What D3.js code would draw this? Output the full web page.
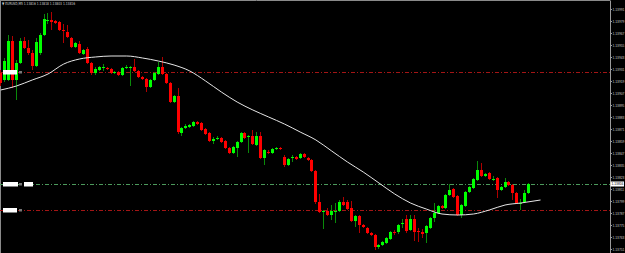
<!DOCTYPE html>
<html>
<head>
<meta charset="utf-8">
<script src="https://cdn.jsdelivr.net/npm/d3@7"></script>
<style>
html, body { margin: 0; padding: 0; background: #000; overflow: hidden; }
svg { display: block; }
</style>
</head>
<body>
<svg id="chart" width="625" height="253"></svg>
<script>
var symbolLabel = "\u25BC EURUSD,M5";
var ohlcLabel = ["1.13816", "1.13818", "1.13803", "1.13816"];

var openP = [1.13927,1.13920,1.13920,1.13959,1.13920,1.13937,1.13959,1.13952,1.13947,1.13934,
  1.13947,1.13965,1.13979,1.13980,1.13979,1.13978,1.13970,1.13968,1.13962,1.13953,
  1.13956,1.13946,1.13951,1.13937,1.13927,1.13930,1.13932,1.13932,1.13931,1.13927,
  1.13928,1.13925,1.13932,1.13932,1.13933,1.13929,1.13923,1.13921,1.13913,1.13920,
  1.13926,1.13933,1.13926,1.13917,1.13898,1.13904,1.13867,1.13872,1.13873,1.13874,
  1.13878,1.13877,1.13871,1.13867,1.13859,1.13861,1.13862,1.13859,1.13852,1.13847,
  1.13852,1.13858,1.13867,1.13863,1.13864,1.13855,1.13864,1.13842,1.13848,1.13847,
  1.13851,1.13852,1.13843,1.13835,1.13842,1.13843,1.13842,1.13846,1.13842,1.13840,
  1.13829,1.13798,1.13788,1.13789,1.13785,1.13788,1.13789,1.13798,1.13798,1.13792,
  1.13779,1.13784,1.13775,1.13772,1.13767,1.13765,1.13753,1.13755,1.13757,1.13761,
  1.13768,1.13768,1.13776,1.13781,1.13770,1.13781,1.13769,1.13768,1.13767,1.13772,
  1.13782,1.13787,1.13794,1.13792,1.13805,1.13811,1.13804,1.13785,1.13794,1.13808,
  1.13812,1.13820,1.13830,1.13824,1.13827,1.13820,1.13822,1.13810,1.13813,1.13818,
  1.13815,1.13807,1.13796,1.13798,1.13807];

var highP = [1.13930,1.13942,1.13965,1.13964,1.13940,1.13962,1.13963,1.13960,1.13950,1.13962,
  1.13967,1.13986,1.13987,1.13988,1.13980,1.13979,1.13976,1.13975,1.13963,1.13958,
  1.13959,1.13951,1.13953,1.13938,1.13933,1.13934,1.13936,1.13933,1.13932,1.13929,
  1.13929,1.13933,1.13935,1.13934,1.13941,1.13930,1.13924,1.13922,1.13921,1.13928,
  1.13938,1.13943,1.13927,1.13918,1.13905,1.13912,1.13873,1.13876,1.13876,1.13879,
  1.13879,1.13878,1.13872,1.13868,1.13863,1.13864,1.13863,1.13860,1.13853,1.13854,
  1.13859,1.13868,1.13868,1.13865,1.13870,1.13868,1.13868,1.13851,1.13850,1.13852,
  1.13853,1.13853,1.13845,1.13842,1.13845,1.13844,1.13847,1.13847,1.13843,1.13841,
  1.13830,1.13806,1.13790,1.13792,1.13795,1.13797,1.13800,1.13803,1.13800,1.13799,
  1.13785,1.13785,1.13776,1.13773,1.13768,1.13766,1.13756,1.13759,1.13763,1.13769,
  1.13770,1.13776,1.13781,1.13785,1.13785,1.13785,1.13772,1.13771,1.13775,1.13783,
  1.13797,1.13795,1.13795,1.13806,1.13816,1.13812,1.13805,1.13796,1.13809,1.13814,
  1.13822,1.13839,1.13837,1.13827,1.13828,1.13824,1.13823,1.13814,1.13822,1.13819,
  1.13816,1.13808,1.13801,1.13810,1.13817];

var lowP = [1.13914,1.13918,1.13919,1.13912,1.13900,1.13936,1.13951,1.13945,1.13930,1.13933,
  1.13945,1.13964,1.13976,1.13970,1.13976,1.13969,1.13957,1.13962,1.13952,1.13952,
  1.13946,1.13945,1.13936,1.13925,1.13925,1.13929,1.13929,1.13930,1.13926,1.13926,
  1.13924,1.13924,1.13931,1.13914,1.13928,1.13922,1.13920,1.13908,1.13912,1.13919,
  1.13925,1.13925,1.13916,1.13897,1.13897,1.13866,1.13864,1.13871,1.13872,1.13873,
  1.13875,1.13869,1.13865,1.13858,1.13856,1.13860,1.13857,1.13851,1.13846,1.13846,
  1.13843,1.13857,1.13861,1.13847,1.13855,1.13854,1.13841,1.13835,1.13846,1.13846,
  1.13850,1.13850,1.13833,1.13834,1.13838,1.13840,1.13841,1.13842,1.13839,1.13828,
  1.13796,1.13787,1.13771,1.13784,1.13780,1.13777,1.13788,1.13794,1.13790,1.13778,
  1.13773,1.13767,1.13772,1.13766,1.13764,1.13750,1.13751,1.13754,1.13756,1.13760,
  1.13765,1.13766,1.13772,1.13767,1.13769,1.13759,1.13758,1.13762,1.13757,1.13771,
  1.13778,1.13786,1.13791,1.13791,1.13804,1.13802,1.13784,1.13782,1.13793,1.13807,
  1.13811,1.13819,1.13823,1.13823,1.13820,1.13819,1.13802,1.13809,1.13812,1.13814,
  1.13800,1.13796,1.13790,1.13797,1.13806];

var closeP = [1.13917,1.13939,1.13959,1.13920,1.13937,1.13959,1.13952,1.13947,1.13934,1.13958,
  1.13965,1.13981,1.13980,1.13978,1.13977,1.13970,1.13969,1.13963,1.13953,1.13957,
  1.13947,1.13950,1.13937,1.13927,1.13931,1.13933,1.13933,1.13931,1.13927,1.13928,
  1.13925,1.13932,1.13933,1.13933,1.13929,1.13923,1.13921,1.13913,1.13920,1.13927,
  1.13933,1.13926,1.13917,1.13898,1.13904,1.13868,1.13872,1.13874,1.13875,1.13878,
  1.13876,1.13870,1.13866,1.13859,1.13861,1.13862,1.13858,1.13852,1.13847,1.13853,
  1.13858,1.13867,1.13862,1.13864,1.13856,1.13864,1.13842,1.13850,1.13847,1.13851,
  1.13852,1.13851,1.13835,1.13841,1.13843,1.13841,1.13846,1.13843,1.13840,1.13829,
  1.13798,1.13788,1.13789,1.13785,1.13789,1.13789,1.13798,1.13795,1.13791,1.13779,
  1.13784,1.13775,1.13773,1.13767,1.13765,1.13753,1.13755,1.13758,1.13762,1.13768,
  1.13767,1.13775,1.13777,1.13769,1.13781,1.13768,1.13768,1.13766,1.13774,1.13782,
  1.13787,1.13794,1.13792,1.13805,1.13810,1.13803,1.13785,1.13795,1.13808,1.13813,
  1.13821,1.13830,1.13824,1.13826,1.13821,1.13821,1.13810,1.13813,1.13818,1.13815,
  1.13807,1.13797,1.13797,1.13807,1.13816];

// moving average, read every 4th bar (it runs a few bars past the last candle)
var maIdx = [0,4,8,12,16,20,24,28,32,36,40,44,48,52,56,60,64,68,72,76,80,84,88,92,96,100,104,108,112,116,120,124,128,132,137];
var maVal = [1.13910,1.13914,1.13920,1.13926,1.13936,1.13941,1.13943,1.13944,1.13944,1.13942,
  1.13939,1.13935,1.13929,1.13919,1.13908,1.13898,1.13890,1.13883,1.13876,1.13868,
  1.13860,1.13849,1.13838,1.13828,1.13817,1.13806,1.13797,1.13791,1.13786,1.13785,
  1.13786,1.13790,1.13795,1.13797,1.13800];

var levelPrices = [1.13928, 1.13816, 1.13790];
var levelColors = ["#a31515", "#4c9a5c", "#a31515"];
var bidPrice = 1.13816;

var priceTicks = [1.13991,1.13979,1.13967,1.13955,1.13943,1.13931,1.13919,1.13907,1.13895,1.13883,
  1.13871,1.13859,1.13847,1.13835,1.13823,1.13811,1.13799,1.13787,1.13775,1.13763,1.13751];

var bars = openP.map(function(o, i) {
    return {i: i, o: o, h: highP[i], l: lowP[i], c: closeP[i]};
});

var svg = d3.select("#chart"),
    width = 625,
    height = 253,
    plotRight = 610;

svg.append("rect").attr("width", width).attr("height", height).attr("fill", "#000");

var x = d3.scaleLinear().domain([0, bars.length - 1]).range([0.7, 528.7]);
var y = d3.scaleLinear().domain([1.14, 1.13747]).range([0, 253]);

function cx(i) { return Math.floor(x(i)) + 0.5; }

// frame
svg.append("line").attr("x1", 0).attr("x2", plotRight).attr("y1", 0.5).attr("y2", 0.5)
    .attr("stroke", "#8a8a8a");
svg.append("line").attr("x1", 0.5).attr("x2", 0.5).attr("y1", 0).attr("y2", height)
    .attr("stroke", "#8a8a8a");

// horizontal levels
svg.append("g").selectAll("line")
    .data(levelPrices)
    .enter().append("line")
    .attr("x1", 0).attr("x2", plotRight)
    .attr("y1", function(d) { return Math.round(y(d)) + 0.5; })
    .attr("y2", function(d) { return Math.round(y(d)) + 0.5; })
    .attr("stroke", function(d, i) { return levelColors[i]; })
    .attr("stroke-dasharray", "4,2,1,2");

// candles
var g = svg.append("g").attr("shape-rendering", "crispEdges");

g.selectAll("line.wick")
    .data(bars)
    .enter().append("line")
    .attr("class", "wick")
    .attr("x1", function(d) { return cx(d.i); })
    .attr("x2", function(d) { return cx(d.i); })
    .attr("y1", function(d) { return y(d.h); })
    .attr("y2", function(d) { return y(d.l); })
    .attr("stroke", function(d) { return d.c >= d.o ? "#0a8a0a" : "#b00000"; });

g.selectAll("rect.body")
    .data(bars)
    .enter().append("rect")
    .attr("class", "body")
    .attr("x", function(d) { return cx(d.i) - 1.5; })
    .attr("width", 3)
    .attr("y", function(d) { return y(Math.max(d.o, d.c)); })
    .attr("height", function(d) { return Math.max(1, y(Math.min(d.o, d.c)) - y(Math.max(d.o, d.c))); })
    .attr("fill", function(d) { return d.c >= d.o ? "#00ff00" : "#ff0000"; });

// moving average
var maLine = d3.line()
    .x(function(d, i) { return x(maIdx[i]); })
    .y(function(d) { return y(d); })
    .curve(d3.curveMonotoneX);

svg.append("path")
    .datum(maVal)
    .attr("d", maLine)
    .attr("fill", "none")
    .attr("stroke", "#e6e6e6")
    .attr("stroke-width", 1);

// trade labels at the left of the levels
var tags = [
    {lv: 0, x: 3, w: 14}, {lv: 1, x: 3, w: 15}, {lv: 1, x: 24, w: 9}, {lv: 2, x: 3, w: 14}
];
svg.append("g").selectAll("rect")
    .data(tags)
    .enter().append("rect")
    .attr("x", function(d) { return d.x; })
    .attr("y", function(d) { return Math.round(y(levelPrices[d.lv])) - 2; })
    .attr("width", function(d) { return d.w; })
    .attr("height", 4.5)
    .attr("fill", "#fff");
svg.append("g").selectAll("rect")
    .data([0, 1, 2])
    .enter().append("rect")
    .attr("x", 19)
    .attr("y", function(d) { return Math.round(y(levelPrices[d])) - 1; })
    .attr("width", 3)
    .attr("height", 2.5)
    .attr("fill", "#777");

// price axis
var axis = d3.axisRight(y)
    .tickValues(priceTicks)
    .tickSize(2)
    .tickSizeOuter(0)
    .tickPadding(0.5)
    .tickFormat(d3.format(".5f"));

var ax = svg.append("g")
    .attr("transform", "translate(" + plotRight + ",0)")
    .call(axis);
ax.select(".domain").attr("stroke", "#9a9a9a");
ax.selectAll(".tick line").attr("stroke", "#9a9a9a");
ax.selectAll(".tick text")
    .attr("fill", "#c8c8c8")
    .attr("font-family", "Liberation Sans")
    .attr("font-size", 3.3);

// bid price box
svg.append("rect")
    .attr("x", plotRight + 0.5).attr("y", y(bidPrice) - 2.5)
    .attr("width", 13.5).attr("height", 5)
    .attr("fill", "#fff");
svg.append("text")
    .attr("x", plotRight + 1.5).attr("y", y(bidPrice) + 1.2)
    .attr("fill", "#000")
    .attr("font-family", "Liberation Sans")
    .attr("font-size", 3.3)
    .text(d3.format(".5f")(bidPrice));

// header
svg.append("text")
    .attr("x", 2).attr("y", 5)
    .attr("fill", "#d0d0d0")
    .attr("font-family", "DejaVu Sans")
    .attr("font-size", 4)
    .attr("textLength", 73)
    .attr("lengthAdjust", "spacingAndGlyphs")
    .text(symbolLabel + "  " + ohlcLabel.join(" "));
</script>
</body>
</html>
